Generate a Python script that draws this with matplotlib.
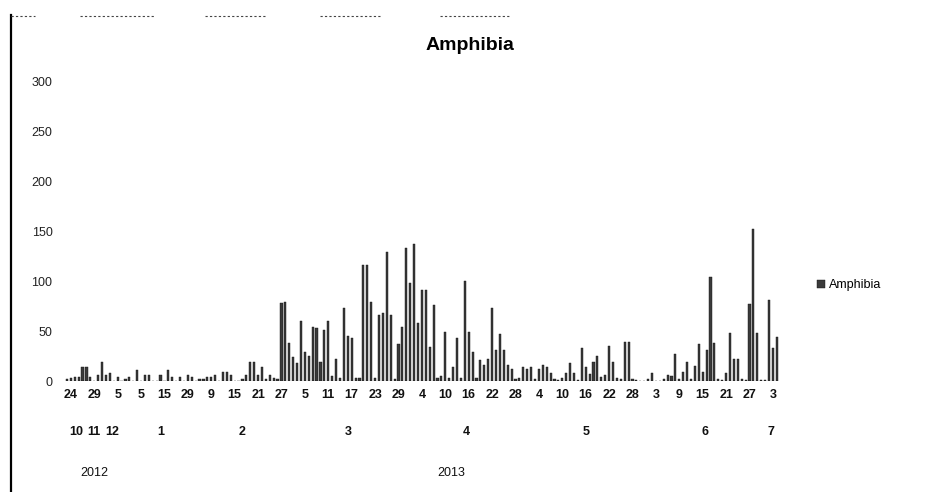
import numpy as np
import matplotlib
matplotlib.use("Agg")
import matplotlib.pyplot as plt
from matplotlib.lines import Line2D
import matplotlib.transforms as mtransforms

plt.rcParams['font.family'] = ['Liberation Sans', 'DejaVu Sans']

# sample dates, one list of days per month, and the counts for each day
oct12_days = [23, 24, 26, 28, 30, 31]
oct12_vals = [2, 3, 4, 4, 14, 14]
nov12_days = [19, 29, 30]
nov12_vals = [4, 0, 6]
dec12_days = [1, 2, 3, 4, 5, 12]
dec12_vals = [19, 6, 8, 0, 4, 0]
jan13_days = [1, 2, 3, 4, 5, 7, 8, 10, 12, 14, 15, 17, 19, 21, 24, 27, 29, 30, 31]
jan13_vals = [2, 4, 0, 11, 0, 6, 6, 0, 0, 6, 0, 11, 4, 0, 4, 0, 6, 4, 0]
feb13_days = list(range(6, 29))
feb13_vals = [2, 2, 4, 4, 6, 0, 9, 9, 6, 0, 0, 2, 6, 19, 19, 6, 14, 2, 6, 3, 2, 78, 79]
mar13_days = list(range(1, 32))
mar13_vals = [38, 24, 18, 60, 29, 25, 54, 53, 19, 51, 60, 5, 22, 3, 73, 45, 43, 3, 3,
              116, 116, 79, 3, 66, 68, 129, 66, 2, 37, 54, 133]
apr13_days = list(range(1, 31))
apr13_vals = [98, 137, 58, 91, 91, 34, 76, 3, 5, 49, 3, 14, 43, 3, 100, 49, 29, 3,
              21, 16, 22, 73, 31, 47, 31, 16, 12, 2, 3, 14]
may13_days = list(range(1, 32))
may13_vals = [12, 14, 2, 12, 16, 14, 8, 2, 1, 3, 8, 18, 8, 1, 33, 14, 7, 19, 25, 4,
              6, 35, 19, 3, 2, 39, 39, 2, 1, 0, 0]
jun13_days = list(range(1, 31))
jun13_vals = [2, 8, 0, 0, 2, 6, 5, 27, 2, 9, 19, 2, 15, 37, 9, 31, 104, 38, 2, 1,
              8, 48, 22, 22, 2, 1, 77, 153, 48, 1]
jul13_days = [1, 2, 3, 4]
jul13_vals = [1, 81, 33, 44]

months = [("10", oct12_days, oct12_vals), ("11", nov12_days, nov12_vals),
          ("12", dec12_days, dec12_vals), ("1", jan13_days, jan13_vals),
          ("2", feb13_days, feb13_vals), ("3", mar13_days, mar13_vals),
          ("4", apr13_days, apr13_vals), ("5", may13_days, may13_vals),
          ("6", jun13_days, jun13_vals), ("7", jul13_days, jul13_vals)]
year_of_month = ["2012", "2012", "2012", "2013", "2013", "2013", "2013", "2013", "2013", "2013"]

days = []
values = []
month_ranges = []
for name, d, v in months:
    start = len(days)
    days += d
    values += v
    month_ranges.append((name, start, len(days) - 1))
x = np.arange(len(values))

fig = plt.figure(figsize=(9.25, 4.92), dpi=100)
ax = fig.add_axes([65 / 925, 111 / 492, 720 / 925, 299 / 492])

bars = ax.bar(x, values, width=0.55, color='#3a3a3a', edgecolor='#111111', linewidth=0.3,
              label='Amphibia')

ax.set_xlim(-0.5, 184.1)
ax.set_ylim(0, 300)
ax.set_yticks(range(0, 301, 50))
ax.tick_params(axis='y', length=0, pad=9, labelsize=9, colors='#222222')
ax.set_xticks([])
for s in ax.spines.values():
    s.set_visible(False)

# multi level category labels: day, month, year
tr = mtransforms.blended_transform_factory(ax.transData, fig.transFigure)
for i in range(1, len(days), 6):
    ax.text(i, 1 - 395 / 492, str(days[i]), transform=tr, ha='center', va='center',
            fontsize=9, fontweight='bold', color='#111111')
for name, a, b in month_ranges:
    ax.text((a + b) / 2, 1 - 432 / 492, name, transform=tr, ha='center', va='center',
            fontsize=9, fontweight='bold', color='#111111')
for yr in ["2012", "2013"]:
    idx = [r for r, y in zip(month_ranges, year_of_month) if y == yr]
    a, b = idx[0][1], idx[-1][2]
    ax.text((a + b) / 2, 1 - 473 / 492, yr, transform=tr, ha='center', va='center',
            fontsize=9, color='#111111')

fig.text(470 / 925, 1 - 46 / 492, "Amphibia", ha='center', va='center',
         fontsize=14, fontweight='bold')

fig.legend(handles=[bars], loc='center left', bbox_to_anchor=(806 / 925, 1 - 285 / 492),
           frameon=False, fontsize=9, handlelength=0.6, handleheight=0.6,
           handletextpad=0.3)

# chart area border remnants
fig.add_artist(Line2D([11 / 925, 11 / 925], [0, 1 - 15 / 492], color='black', lw=1.6))
for x0, x1 in [(11, 35), (80, 155), (205, 265), (320, 380), (440, 510)]:
    fig.add_artist(Line2D([x0 / 925, x1 / 925], [1 - 16 / 492, 1 - 16 / 492],
                          color='#444444', lw=0.8, ls=(0, (2, 2))))

fig.savefig("out.png", dpi=100)
